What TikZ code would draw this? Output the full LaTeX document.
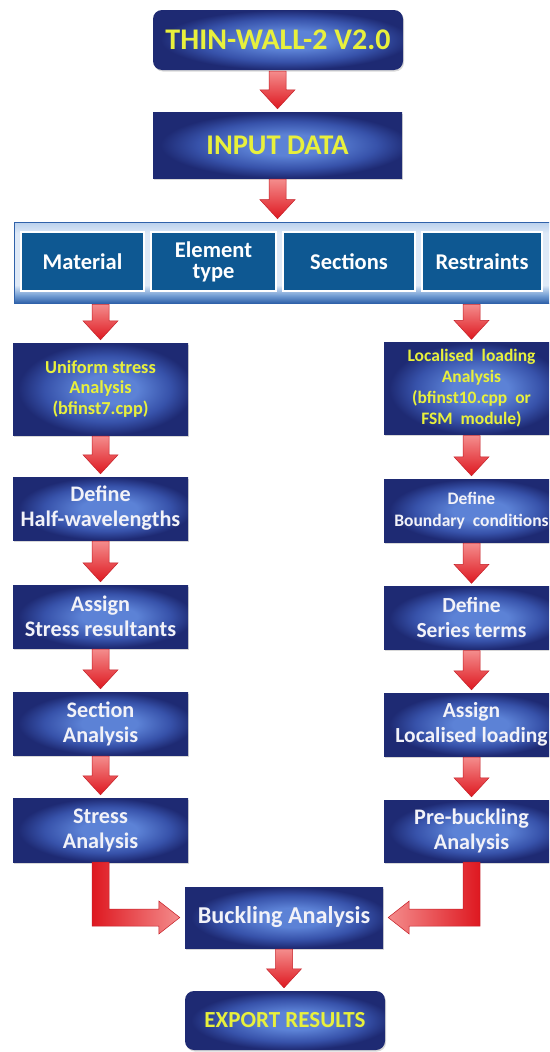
\documentclass[tikz,border=0pt]{standalone}
\usepackage{fontspec}
\setmainfont{Carlito}
\usetikzlibrary{calc,shadows}

% palette
\definecolor{boxdark}{RGB}{30,42,115}
\definecolor{boxmid}{RGB}{55,82,170}
\definecolor{boxlight}{RGB}{92,130,214}
\definecolor{hiyellow}{RGB}{232,240,60}
\definecolor{boxtext}{RGB}{242,242,248}
\definecolor{parblue}{RGB}{14,88,146}
\definecolor{bandtop}{RGB}{185,208,236}
\definecolor{bandmid}{RGB}{222,233,247}
\definecolor{bandbot}{RGB}{48,98,170}
\definecolor{bandbotlt}{RGB}{120,162,214}
\definecolor{arrowlight}{RGB}{244,140,140}
\definecolor{arrowred}{RGB}{222,24,32}
\definecolor{arrowedge}{RGB}{196,30,38}

\pgfdeclareradialshading{boxshade}{\pgfpoint{3bp}{0bp}}{%
  color(0bp)=(boxlight); color(8bp)=(boxlight); color(18bp)=(boxmid);
  color(25bp)=(boxdark); color(50bp)=(boxdark)}
\pgfdeclareverticalshading{bandshade}{100bp}{%
  color(0bp)=(bandbot); color(25bp)=(bandbot); color(30bp)=(bandbotlt);
  color(36bp)=(bandmid); color(68bp)=(bandmid); color(75bp)=(bandtop);
  color(100bp)=(bandtop)}

\tikzset{
  box/.style={shade, shading=boxshade, draw=none, minimum width=175pt,
    minimum height=63pt, align=center, text=boxtext, inner sep=2pt,
    font=\bfseries\fontsize{22.2}{25}\selectfont,
    drop shadow={opacity=0.3, shadow xshift=1pt, shadow yshift=-1.5pt}},
  hitext/.style={text=hiyellow},
  band/.style={shade, shading=bandshade, draw=bandbot, line width=0.6pt,
    minimum width=546pt, minimum height=81pt},
  param/.style={fill=parblue, draw=white, line width=1.8pt, text=white,
    align=center, minimum height=59pt,
    font=\bfseries\fontsize{22.5}{21}\selectfont},
  downarrow/.style={shade, top color=arrowlight, bottom color=arrowred,
    draw=arrowedge, line width=0.5pt},
  elbowleft/.style={shade, left color=arrowred, right color=arrowlight,
    draw=arrowedge, line width=0.5pt},
  elbowright/.style={shade, left color=arrowlight, right color=arrowred,
    draw=arrowedge, line width=0.5pt}
}

% straight block arrow from node #1 down to node #2, on the vertical line of node #3
\newcommand\blockdown[3]{%
  \coordinate (s) at ($(#3.center |- #1.south)+(0,1)$);
  \coordinate (t) at ($(#3.center |- #2.north)+(0,-3)$);
  \path[downarrow] ($(s)+(-8.5,0)$) -- ($(s)+(8.5,0)$) -- ($(t)+(8.5,-19)$)
    -- ($(t)+(17.5,-19)$) -- (t) -- ($(t)+(-17.5,-19)$) -- ($(t)+(-8.5,-19)$)
    -- cycle;}

\begin{document}
\begin{tikzpicture}[x=1pt,y=-1pt]
\useasboundingbox (0,0) rectangle (549,1052);
\clip (0,0) rectangle (549,1052);
\fill[white] (0,0) rectangle (549,1052);

% header
\node[box, hitext, rounded corners=9pt, minimum width=250pt, minimum height=60pt,
  font=\bfseries\fontsize{30}{34}\selectfont] (title) at (278,40) {THIN-WALL-2 V2.0};
\node[box, hitext, minimum width=249pt, minimum height=66pt,
  font=\bfseries\fontsize{28.5}{32}\selectfont] (input) at (277.5,145) {INPUT DATA};

% input parameter band
\node[band] (band) at (287,262.5) {};
\node[param, minimum width=123pt] (mat) at (82.5,261.5) {Material};
\node[param, minimum width=125pt] (elt) at (213.5,261.5) {Element\\type};
\node[param, minimum width=132pt] (sec) at (349,261.5) {Sections};
\node[param, minimum width=120pt] (res) at (482,261.5) {Restraints};

% uniform stress branch
\node[box, hitext, minimum height=92pt,
  font=\bfseries\fontsize{18.3}{20.5}\selectfont] (us) at (100.5,389)
  {Uniform stress\\Analysis\\(bfinst7.cpp)};
\node[box] (hw) at (100.5,508.5) {Define\\Half-wavelengths};
\node[box] (sr) at (100.5,616.5) {Assign\\Stress resultants};
\node[box] (sa) at (100.5,723.5) {Section\\Analysis};
\node[box, minimum height=64pt] (st) at (100.5,830) {Stress\\Analysis};

% localised loading branch
\node[box, hitext, minimum height=92pt,
  font=\bfseries\fontsize{17.5}{21}\selectfont] (ll) at (471.5,388.5)
  {Localised\ \ loading\\Analysis\\(bfinst10.cpp\ \ or\\FSM\ \ module)};
\node[box, font=\bfseries\fontsize{17.5}{22}\selectfont] (bc) at (471.5,510.5)
  {Define\\Boundary\ \ conditions};
\node[box, font=\bfseries\fontsize{21.5}{25}\selectfont] (ser) at (471.5,618)
  {Define\\Series terms};
\node[box, font=\bfseries\fontsize{21.5}{25}\selectfont] (al) at (471.5,724.5)
  {Assign\\Localised loading};
\node[box, minimum height=62pt] (pb) at (471.5,831) {Pre-buckling\\Analysis};

% solution and output
\node[box, minimum width=198pt, minimum height=61pt,
  font=\bfseries\fontsize{24.2}{28}\selectfont] (bk) at (284,917.5) {Buckling Analysis};
\node[box, hitext, rounded corners=9pt, minimum width=200pt, minimum height=59pt,
  font=\bfseries\fontsize{23}{26}\selectfont] (ex) at (285,1020.5) {EXPORT RESULTS};

% straight connectors
\blockdown{title}{input}{input}
\blockdown{input}{band}{input}
\blockdown{band}{us}{us}
\blockdown{us}{hw}{hw}
\blockdown{hw}{sr}{sr}
\blockdown{sr}{sa}{sa}
\blockdown{sa}{st}{st}
\blockdown{band}{ll}{ll}
\blockdown{ll}{bc}{bc}
\blockdown{bc}{ser}{ser}
\blockdown{ser}{al}{al}
\blockdown{al}{pb}{pb}
\blockdown{bk}{ex}{bk}

% elbow connectors into the buckling analysis
\coordinate (lt) at ($(bk.west)+(-5,0)$);
\coordinate (lv) at (st.south);
\path[elbowleft] ($(lv)+(-8.5,0)$) -- ($(lv |- lt)+(-8.5,8.5)$)
  -- ($(lt)+(-21,8.5)$) -- ($(lt)+(-21,16.5)$) -- (lt)
  -- ($(lt)+(-21,-16.5)$) -- ($(lt)+(-21,-8.5)$)
  -- ($(lv |- lt)+(8.5,-8.5)$) -- ($(lv)+(8.5,0)$) -- cycle;

\coordinate (rt) at ($(bk.east)+(5,0)$);
\coordinate (rv) at (pb.south);
\path[elbowright] ($(rv)+(8.5,0)$) -- ($(rv |- rt)+(8.5,8.5)$)
  -- ($(rt)+(21,8.5)$) -- ($(rt)+(21,16.5)$) -- (rt)
  -- ($(rt)+(21,-16.5)$) -- ($(rt)+(21,-8.5)$)
  -- ($(rv |- rt)+(-8.5,-8.5)$) -- ($(rv)+(-8.5,0)$) -- cycle;
\end{tikzpicture}
\end{document}
